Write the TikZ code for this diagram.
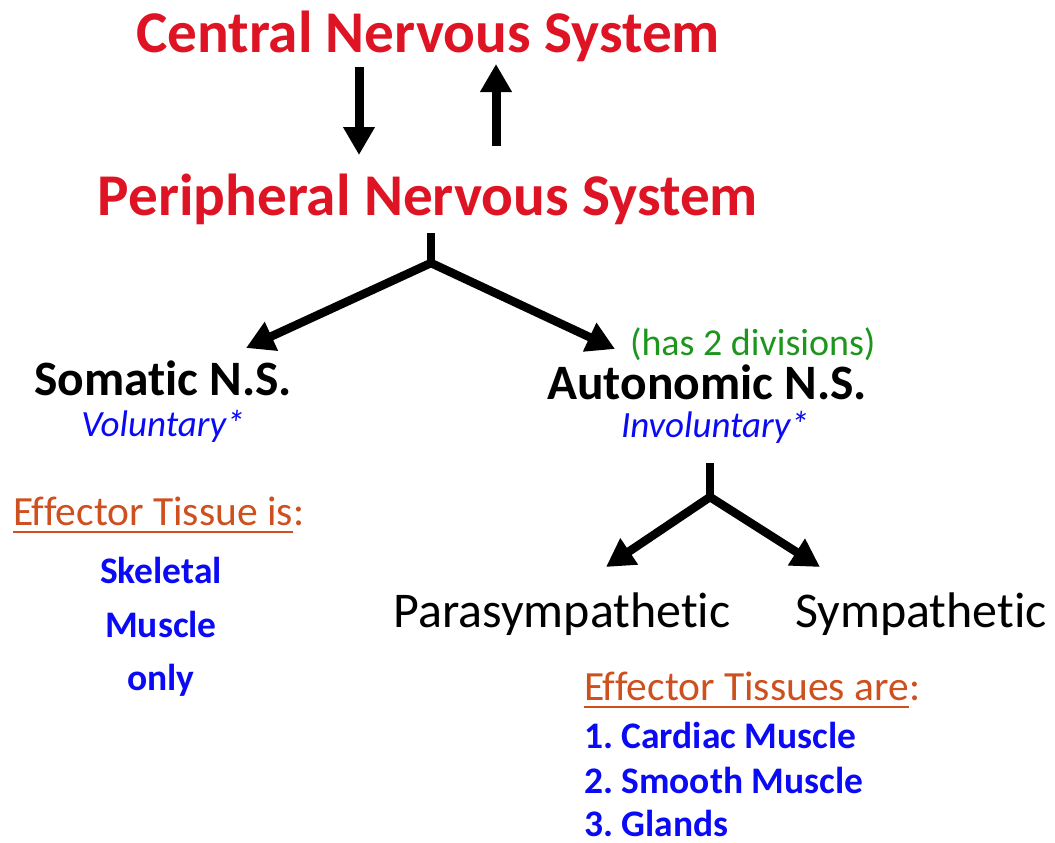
\documentclass[tikz,border=0pt]{standalone}
\usepackage{fontspec}
\setmainfont{Carlito}[Ligatures={NoCommon}]
\usetikzlibrary{arrows.meta}
\definecolor{cnsred}{RGB}{222,20,36}
\definecolor{effblue}{RGB}{10,10,245}
\definecolor{divgreen}{RGB}{30,150,30}
\definecolor{efforange}{RGB}{205,80,30}
\newcommand\myul[1]{\setbox0\hbox{#1}\rlap{\vrule height -5.5pt depth 8pt width \wd0}\box0}
\frenchspacing
\tikzset{
  txt/.style={inner sep=0pt, outer sep=0pt},
  bigred/.style={txt, text=cnsred, font=\fontsize{59.2}{60}\selectfont\bfseries},
  nslabel/.style={txt, font=\fontsize{49.5}{52}\selectfont\bfseries},
  volabel/.style={txt, text=effblue, font=\fontsize{37}{40}\selectfont\itshape},
  divlabel/.style={txt, font=\fontsize{50}{54}\selectfont},
  efftitle/.style={txt, text=efforange, font=\fontsize{41.5}{44}\selectfont},
  efflist/.style={txt, text=effblue, font=\fontsize{37.5}{40}\selectfont\bfseries},
  vararrow/.style={line width=9pt, -{Triangle[length=28pt,width=30pt]}},
  branch/.style={line width=8.5pt, line join=miter, {Triangle[length=28pt,width=30pt]}-{Triangle[length=28pt,width=30pt]}},
  stem/.style={line width=8.5pt}
}
\begin{document}
\begin{tikzpicture}[x=1pt,y=1pt]
\useasboundingbox (0,0) rectangle (1055,-843);
% titles
\node[bigred, anchor=base] (cns) at (428,-53) {Central Nervous System};
\node[bigred, anchor=base] (pns) at (428,-215) {Peripheral Nervous System};
% CNS <-> PNS arrows
\coordinate (dtop) at (359,-67);
\coordinate (dbot) at (359,-155);
\coordinate (ubot) at (496,-146);
\coordinate (utop) at (496,-64);
\draw[vararrow] (dtop) -- (dbot);
\draw[vararrow] (ubot) -- (utop);
% first split
\coordinate (s1top) at (431,-233);
\coordinate (s1j) at (431,-263);
\coordinate (s1l) at (246,-348);
\coordinate (s1r) at (615,-349);
\draw[stem] (s1top) -- (s1j);
\draw[branch] (s1l) -- (s1j) -- (s1r);
% somatic / autonomic
\node[nslabel, anchor=base] (som) at (163,-395) {Somatic N.S.};
\node[volabel, anchor=base] (vol) at (163,-436) {Voluntary*};
\node[txt, anchor=base west, text=divgreen, font=\fontsize{38}{40}\selectfont] (div) at (630,-355) {(has 2 divisions)};
\node[nslabel, anchor=base] (aut) at (707,-399) {Autonomic N.S.};
\node[volabel, anchor=base] (invol) at (715,-437) {Involuntary*};
% second split
\coordinate (s2top) at (710,-463);
\coordinate (s2j) at (710,-497);
\coordinate (s2l) at (606,-567);
\coordinate (s2r) at (820,-567);
\draw[stem] (s2top) -- (s2j);
\draw[branch] (s2l) -- (s2j) -- (s2r);
\node[divlabel, anchor=base] (para) at (562,-627) {Parasympathetic};
\node[divlabel, anchor=base] (symp) at (921,-627) {Sympathetic};
% effector tissues (somatic)
\node[efftitle, anchor=base west] (eff1) at (13,-525) {\myul{Effector Tissue is}:};
\node[efflist, anchor=base] (sk) at (161,-583) {Skeletal};
\node[efflist, anchor=base] (mu) at (161,-637) {Muscle};
\node[efflist, anchor=base] (on) at (161,-690) {only};
% effector tissues (autonomic)
\node[efftitle, anchor=base west] (eff2) at (584,-700) {\myul{Effector Tissues are}:};
\node[efflist, anchor=base west] (l1) at (584,-748) {1. Cardiac Muscle};
\node[efflist, anchor=base west] (l2) at (584,-793) {2. Smooth Muscle};
\node[efflist, anchor=base west] (l3) at (584,-836) {3. Glands};
\end{tikzpicture}
\end{document}
